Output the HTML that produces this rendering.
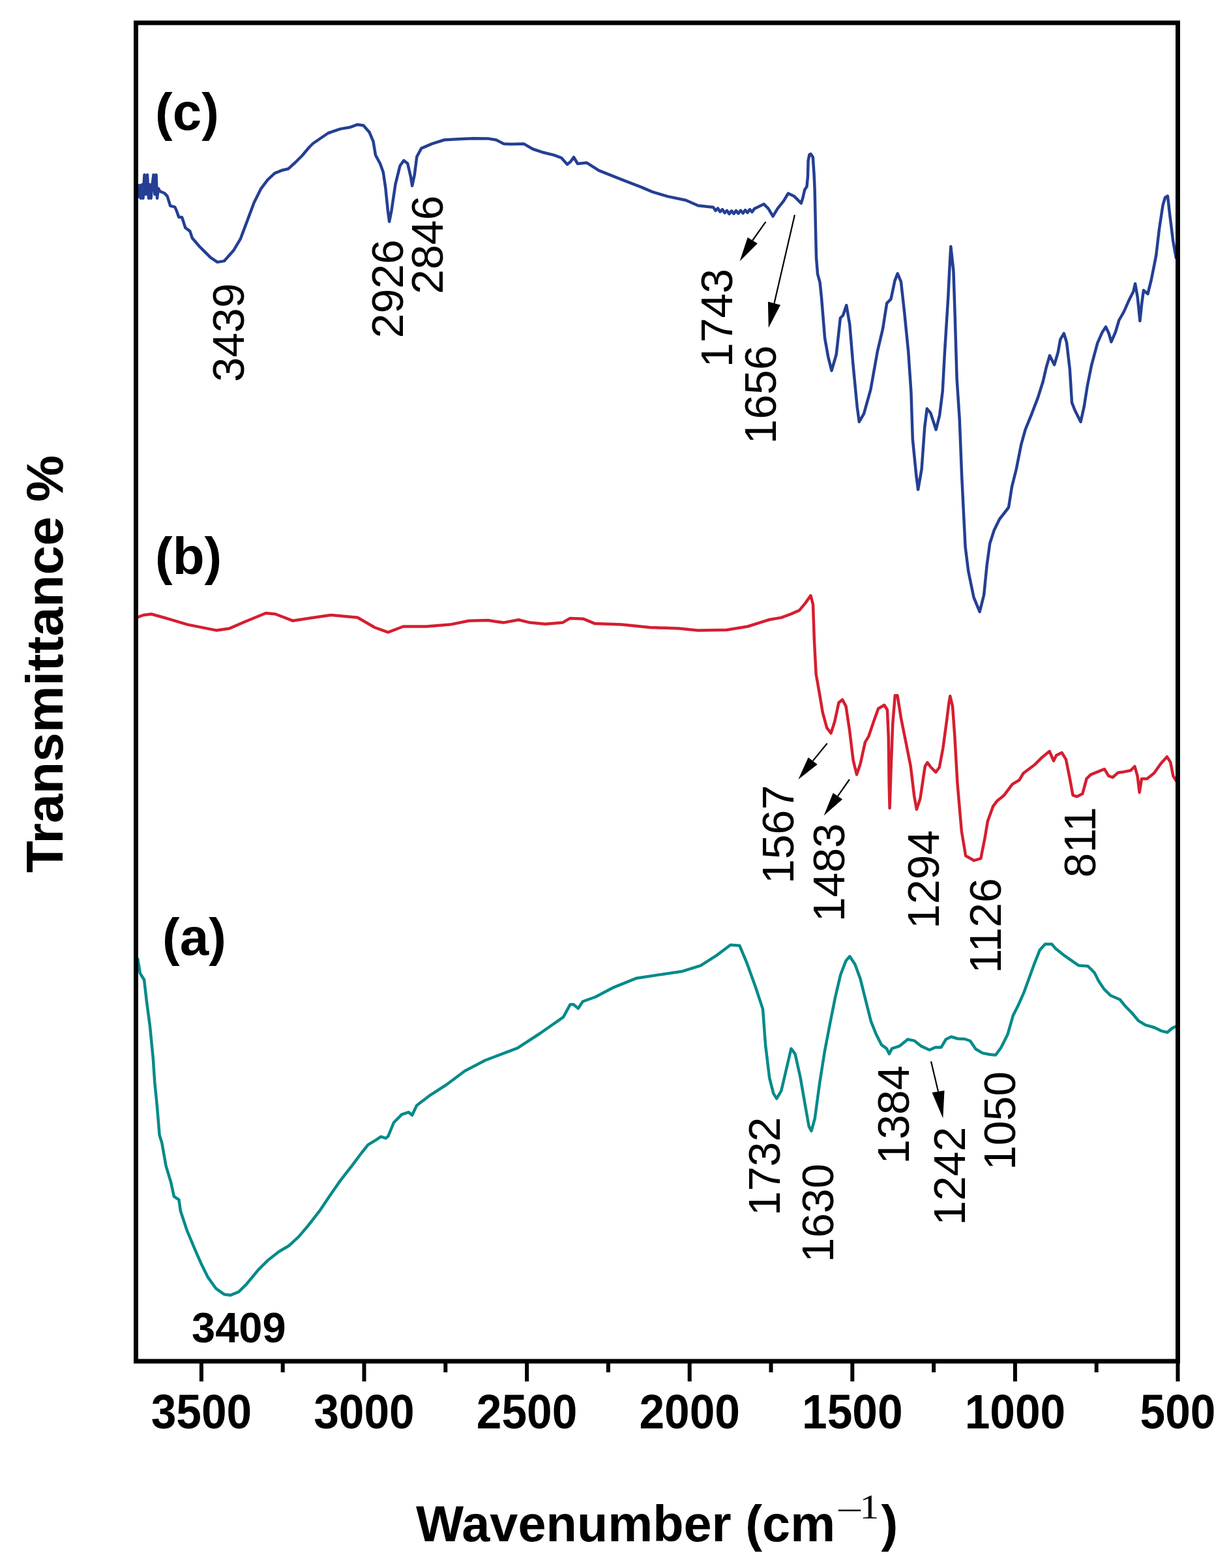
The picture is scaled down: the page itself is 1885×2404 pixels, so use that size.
<!DOCTYPE html>
<html><head><meta charset="utf-8"><title>FTIR spectra</title>
<style>html,body{margin:0;padding:0;background:#fff;}svg{display:block;}</style></head>
<body><svg width="1885" height="2404" viewBox="0 0 1885 2404">
<rect x="0" y="0" width="1885" height="2404" fill="#fff"/>
<polyline fill="none" stroke="#243f93" stroke-width="4.5" stroke-linejoin="round" stroke-linecap="round" points="210.0,292.0 212.0,302.0 214.0,284.0 216.0,304.0 218.0,283.0 219.5,304.0 221.5,268.0 223.5,298.0 226.0,268.0 228.0,304.0 230.0,283.0 231.5,304.0 233.5,284.0 235.5,268.0 237.5,298.0 239.5,268.0 241.0,304.0 243.0,289.0 245.0,293.0 248.0,294.5 252.0,296.0 256.5,300.6 259.0,308.5 261.2,315.6 268.2,317.4 270.6,322.6 274.3,333.0 279.0,333.0 282.0,342.0 284.3,349.2 291.3,354.4 294.9,365.0 305.4,377.3 323.0,394.8 333.5,401.9 344.0,400.1 358.0,384.3 368.6,366.7 379.2,338.6 389.7,310.5 400.2,289.4 410.8,275.4 421.3,265.7 431.9,261.3 442.4,258.7 453.0,249.0 463.5,238.5 474.0,226.0 480.0,220.0 503.4,204.0 522.2,197.6 536.2,195.3 547.9,191.1 557.3,192.2 566.6,202.8 572.5,216.8 576.0,237.9 583.0,250.8 587.7,263.7 591.2,287.1 594.8,322.2 597.1,339.8 600.6,322.2 606.5,282.4 613.5,254.3 619.3,246.1 625.2,250.8 629.9,270.7 632.2,284.8 635.7,268.4 639.3,240.3 646.3,227.4 662.7,220.4 681.4,214.5 702.5,213.3 725.9,212.2 749.3,212.6 761.0,214.5 772.7,220.4 784.4,221.0 803.2,220.4 817.2,228.5 831.3,233.2 850.0,237.9 861.0,242.0 870.0,252.0 875.0,248.0 880.0,241.0 886.0,251.0 900.0,249.6 918.5,261.3 953.7,275.4 984.1,287.1 1000.5,294.1 1023.9,301.1 1052.0,307.0 1070.8,315.2 1094.0,317.7 1097.5,322.9 1101.0,319.4 1104.5,324.7 1108.0,321.1 1111.5,326.4 1115.0,322.9 1118.5,327.9 1122.0,323.3 1125.5,327.5 1129.0,323.0 1132.5,327.2 1136.0,322.6 1139.5,326.9 1143.0,322.1 1146.5,326.0 1150.0,321.1 1153.5,325.0 1157.0,320.1 1171.5,312.9 1178.5,319.9 1185.5,331.6 1192.6,319.9 1201.9,308.2 1208.9,296.5 1218.3,301.1 1228.8,311.7 1231.0,304.7 1234.2,291.0 1237.5,286.0 1239.0,270.0 1239.6,246.0 1241.5,237.0 1243.5,236.0 1246.8,241.0 1248.5,266.0 1249.6,290.0 1250.3,320.0 1250.8,345.0 1252.0,395.0 1254.0,420.0 1257.6,433.0 1260.0,456.6 1265.1,518.6 1270.3,547.5 1275.5,568.2 1282.7,543.4 1288.9,487.6 1293.0,483.5 1298.2,468.0 1303.3,497.9 1308.5,559.9 1314.7,624.0 1317.8,646.7 1325.0,634.3 1335.4,597.1 1345.7,539.3 1354.0,504.1 1360.2,464.9 1366.4,458.7 1372.6,429.8 1376.7,419.4 1381.9,431.8 1387.0,477.3 1393.2,539.3 1397.4,601.2 1399.8,673.5 1405.3,728.6 1408.1,750.6 1413.6,719.4 1418.2,655.1 1421.8,626.6 1427.3,633.1 1435.6,658.8 1441.1,636.7 1445.7,600.0 1449.0,539.3 1454.2,456.6 1456.2,415.3 1458.3,378.1 1462.4,415.3 1464.5,477.3 1467.6,580.6 1471.7,642.6 1475.1,728.6 1477.8,783.7 1480.6,838.8 1485.2,875.5 1493.5,915.9 1502.6,937.9 1509.1,912.2 1513.7,866.3 1518.2,833.2 1524.7,813.0 1533.0,796.0 1547.0,778.0 1552.1,745.7 1558.6,720.0 1566.3,681.4 1572.7,658.3 1581.7,636.4 1592.0,609.4 1599.7,585.0 1604.8,563.1 1610.0,545.1 1617.1,559.3 1622.8,540.0 1626.3,520.4 1631.8,511.2 1636.0,525.0 1640.8,565.7 1644.0,617.1 1648.5,628.7 1657.5,646.7 1662.7,623.6 1667.8,591.4 1674.3,559.3 1683.3,525.9 1690.6,509.4 1696.1,501.1 1700.7,511.2 1704.4,524.1 1710.8,509.4 1716.3,491.0 1723.7,478.1 1731.0,461.6 1738.3,446.9 1741.1,435.0 1744.8,456.1 1748.4,491.9 1751.2,465.3 1754.0,445.1 1760.4,450.6 1765.9,428.6 1773.2,391.8 1778.0,351.0 1783.6,314.3 1787.0,303.0 1790.9,300.5 1794.6,332.6 1799.2,369.4 1803.8,395.1 1806.0,398.0"/>
<polyline fill="none" stroke="#d51e30" stroke-width="4.5" stroke-linejoin="round" stroke-linecap="round" points="210.2,946.7 220.0,943.0 232.2,941.5 258.5,948.8 287.8,957.6 331.7,966.4 352.2,963.4 375.6,953.2 407.8,940.0 422.5,941.5 448.8,951.7 478.1,947.3 507.4,942.9 548.4,946.7 574.7,962.0 595.2,969.3 618.6,960.5 653.7,960.5 690.0,957.6 719.3,951.7 748.5,951.1 772.0,954.6 795.4,950.3 813.0,954.6 836.4,956.7 862.7,954.6 874.4,947.9 894.9,948.8 912.5,956.1 953.5,957.6 997.4,962.0 1041.3,963.4 1070.6,966.4 1114.5,965.8 1146.7,960.5 1170.1,953.2 1180.0,950.0 1198.4,946.9 1213.1,941.4 1225.9,935.9 1235.1,924.9 1243.4,913.0 1247.0,926.7 1248.9,981.8 1251.6,1033.3 1257.1,1064.5 1261.7,1092.0 1268.2,1115.9 1274.5,1124.0 1280.1,1106.7 1286.5,1077.3 1292.0,1072.7 1297.5,1082.8 1303.0,1119.6 1308.6,1165.5 1314.0,1187.5 1319.6,1171.0 1326.9,1137.9 1332.4,1128.8 1339.8,1106.7 1347.1,1086.5 1356.3,1081.0 1360.9,1088.3 1362.7,1128.8 1363.7,1202.2 1364.6,1238.9 1366.4,1183.8 1369.2,1110.4 1372.8,1066.3 1376.5,1066.3 1382.0,1101.2 1389.4,1137.9 1396.7,1174.7 1402.2,1220.6 1405.9,1240.8 1411.4,1224.3 1418.8,1174.7 1422.4,1169.2 1427.9,1176.5 1435.3,1183.8 1440.8,1176.5 1446.3,1147.1 1451.8,1106.7 1455.5,1077.3 1457.3,1067.2 1461.0,1082.8 1464.2,1126.5 1468.4,1200.3 1474.8,1274.0 1481.1,1312.0 1493.7,1319.3 1504.3,1316.2 1510.6,1284.6 1514.8,1259.3 1523.2,1236.1 1529.6,1227.7 1540.1,1219.2 1552.7,1202.4 1563.3,1196.0 1569.6,1185.5 1586.5,1172.8 1597.0,1162.3 1609.7,1151.8 1616.0,1166.5 1620.2,1158.1 1628.6,1153.9 1635.0,1164.4 1641.3,1196.0 1645.5,1219.2 1651.8,1221.3 1660.3,1217.1 1666.6,1193.9 1672.9,1187.6 1683.4,1183.4 1694.0,1179.2 1700.3,1189.7 1706.6,1191.8 1715.1,1184.4 1723.5,1183.4 1734.0,1181.3 1740.4,1175.0 1744.6,1189.7 1747.7,1215.0 1751.0,1193.9 1759.3,1193.9 1769.9,1185.5 1780.4,1170.7 1789.9,1160.2 1795.2,1168.6 1799.4,1189.7 1804.6,1198.1"/>
<polyline fill="none" stroke="#058a8a" stroke-width="4.5" stroke-linejoin="round" stroke-linecap="round" points="211.2,1469.9 214.9,1492.2 221.1,1502.2 224.8,1534.4 229.8,1571.6 234.7,1621.2 237.2,1658.4 240.9,1695.6 244.6,1740.2 248.4,1752.6 254.5,1787.3 262.0,1812.1 266.9,1834.4 274.4,1839.4 276.9,1856.7 286.8,1886.5 299.2,1916.2 309.1,1938.6 319.0,1958.4 331.4,1975.7 343.8,1984.4 353.7,1985.7 366.1,1980.7 378.5,1968.3 395.9,1947.2 410.8,1932.3 428.1,1918.7 443.0,1910.0 457.9,1896.4 472.7,1879.0 490.1,1856.7 505.0,1834.4 522.3,1809.6 539.7,1787.3 554.6,1767.5 564.5,1755.1 576.9,1747.6 584.3,1742.7 591.8,1745.1 595.3,1742.1 604.0,1721.0 616.3,1708.7 626.9,1705.2 632.1,1709.8 639.2,1694.7 660.2,1678.8 684.8,1663.0 712.9,1642.0 744.5,1625.5 793.7,1606.8 828.8,1584.0 864.0,1559.4 874.5,1540.1 879.8,1540.1 886.8,1546.1 893.8,1535.5 913.2,1528.5 941.2,1513.8 976.4,1499.7 1011.5,1494.4 1046.6,1489.2 1074.7,1480.4 1099.3,1464.6 1120.4,1448.8 1134.4,1449.8 1145.0,1475.1 1159.0,1513.8 1170.0,1547.1 1174.0,1601.6 1180.1,1652.1 1186.2,1676.4 1191.2,1684.4 1198.3,1672.3 1205.4,1642.0 1213.4,1607.7 1219.5,1615.8 1227.6,1652.1 1234.6,1692.5 1240.7,1726.9 1244.5,1734.0 1249.8,1714.7 1256.9,1662.2 1264.9,1611.7 1273.0,1569.3 1281.1,1528.9 1289.2,1494.5 1297.3,1473.3 1303.3,1466.3 1311.4,1478.4 1319.5,1500.6 1329.6,1541.0 1335.7,1565.3 1343.7,1585.5 1351.8,1601.6 1359.9,1607.7 1363.9,1615.8 1368.0,1607.7 1380.1,1603.6 1392.2,1593.5 1402.3,1595.6 1412.4,1603.6 1425.6,1609.7 1434.6,1605.7 1443.7,1605.7 1450.8,1593.5 1458.9,1589.5 1469.0,1592.5 1480.0,1593.0 1488.2,1596.0 1496.4,1608.3 1506.6,1614.4 1516.9,1616.5 1527.1,1617.5 1535.3,1606.2 1545.6,1585.7 1553.8,1557.0 1562.0,1540.7 1570.2,1522.2 1578.4,1499.7 1586.6,1477.1 1594.8,1456.6 1603.0,1447.4 1613.2,1447.4 1619.3,1454.6 1633.7,1465.9 1654.2,1480.2 1668.5,1481.2 1678.8,1491.5 1684.9,1503.8 1693.1,1516.1 1703.4,1526.3 1717.7,1532.5 1725.9,1542.7 1736.1,1553.0 1746.4,1565.2 1756.6,1571.4 1771.0,1575.5 1781.2,1580.6 1790.5,1582.7 1797.6,1576.5 1803.8,1573.4"/>
<rect x="208.5" y="35" width="1598.0" height="2052" fill="none" stroke="#000" stroke-width="7"/>
<path d="M308.9,2087v31M433.7,2087v17M558.5,2087v31M683.3,2087v17M808.1,2087v31M932.9,2087v17M1057.7,2087v31M1182.5,2087v17M1307.3,2087v31M1432.1,2087v17M1556.9,2087v31M1681.7,2087v17M1806.5,2087v31" stroke="#000" stroke-width="6" fill="none"/>
<text transform="translate(308.9,2190) scale(0.945,1)" text-anchor="middle" font-family="Liberation Sans, Arial, sans-serif" font-weight="bold" font-size="73.5">3500</text>
<text transform="translate(558.5,2190) scale(0.945,1)" text-anchor="middle" font-family="Liberation Sans, Arial, sans-serif" font-weight="bold" font-size="73.5">3000</text>
<text transform="translate(808.1,2190) scale(0.945,1)" text-anchor="middle" font-family="Liberation Sans, Arial, sans-serif" font-weight="bold" font-size="73.5">2500</text>
<text transform="translate(1057.7,2190) scale(0.945,1)" text-anchor="middle" font-family="Liberation Sans, Arial, sans-serif" font-weight="bold" font-size="73.5">2000</text>
<text transform="translate(1307.3,2190) scale(0.945,1)" text-anchor="middle" font-family="Liberation Sans, Arial, sans-serif" font-weight="bold" font-size="73.5">1500</text>
<text transform="translate(1556.9,2190) scale(0.945,1)" text-anchor="middle" font-family="Liberation Sans, Arial, sans-serif" font-weight="bold" font-size="73.5">1000</text>
<text transform="translate(1806.5,2190) scale(0.945,1)" text-anchor="middle" font-family="Liberation Sans, Arial, sans-serif" font-weight="bold" font-size="73.5">500</text>
<text transform="translate(373.9,509.9) rotate(-90)" text-anchor="middle" font-family="Liberation Sans, Arial, sans-serif" font-size="68">3439</text>
<text transform="translate(617.9,442.8) rotate(-90)" text-anchor="middle" font-family="Liberation Sans, Arial, sans-serif" font-size="68">2926</text>
<text transform="translate(678.5,375.3) rotate(-90)" text-anchor="middle" font-family="Liberation Sans, Arial, sans-serif" font-size="68">2846</text>
<text transform="translate(1122.7,487.5) rotate(-90)" text-anchor="middle" font-family="Liberation Sans, Arial, sans-serif" font-size="68">1743</text>
<text transform="translate(1190.2,605.0) rotate(-90)" text-anchor="middle" font-family="Liberation Sans, Arial, sans-serif" font-size="68">1656</text>
<text transform="translate(1217.4,1279.4) rotate(-90)" text-anchor="middle" font-family="Liberation Sans, Arial, sans-serif" font-size="68">1567</text>
<text transform="translate(1295.2,1337.7) rotate(-90)" text-anchor="middle" font-family="Liberation Sans, Arial, sans-serif" font-size="68">1483</text>
<text transform="translate(1439.7,1348.4) rotate(-90)" text-anchor="middle" font-family="Liberation Sans, Arial, sans-serif" font-size="68">1294</text>
<text transform="translate(1534.5,1419.4) rotate(-90)" text-anchor="middle" font-family="Liberation Sans, Arial, sans-serif" font-size="68">1126</text>
<text transform="translate(1680.3,1291.3) rotate(-90)" text-anchor="middle" font-family="Liberation Sans, Arial, sans-serif" font-size="68">811</text>
<text transform="translate(1195.7,1788.4) rotate(-90)" text-anchor="middle" font-family="Liberation Sans, Arial, sans-serif" font-size="68">1732</text>
<text transform="translate(1278.0,1859.9) rotate(-90)" text-anchor="middle" font-family="Liberation Sans, Arial, sans-serif" font-size="68">1630</text>
<text transform="translate(1394.4,1709.0) rotate(-90)" text-anchor="middle" font-family="Liberation Sans, Arial, sans-serif" font-size="68">1384</text>
<text transform="translate(1479.5,1803.2) rotate(-90)" text-anchor="middle" font-family="Liberation Sans, Arial, sans-serif" font-size="68">1242</text>
<text transform="translate(1556.8,1718.4) rotate(-90)" text-anchor="middle" font-family="Liberation Sans, Arial, sans-serif" font-size="68">1050</text>
<line x1="1174.4" y1="340.1" x2="1154.3" y2="368.5" stroke="#000" stroke-width="2.2"/>
<polygon points="1134.6,400.6 1146.7,363.9 1161.9,373.2" fill="#000"/>
<line x1="1218.9" y1="329.5" x2="1187.5" y2="465.0" stroke="#000" stroke-width="2.2"/>
<polygon points="1178.8,502.4 1177.9,462.5 1197.0,467.5" fill="#000"/>
<line x1="1268.6" y1="1139.7" x2="1246.7" y2="1166.6" stroke="#000" stroke-width="2.2"/>
<polygon points="1224.4,1195.0 1239.7,1161.2 1253.7,1171.9" fill="#000"/>
<line x1="1302.9" y1="1195.0" x2="1284.9" y2="1220.7" stroke="#000" stroke-width="2.2"/>
<polygon points="1263.6,1250.4 1277.7,1215.7 1292.1,1225.6" fill="#000"/>
<line x1="1428.0" y1="1627.3" x2="1439.0" y2="1673.5" stroke="#000" stroke-width="2.2"/>
<polygon points="1446.3,1714.4 1429.5,1675.0 1448.5,1672.0" fill="#000"/>
<text x="238" y="199" font-family="Liberation Sans, Arial, sans-serif" font-weight="bold" font-size="80">(c)</text>
<text x="238" y="880" font-family="Liberation Sans, Arial, sans-serif" font-weight="bold" font-size="80">(b)</text>
<text x="249" y="1464" font-family="Liberation Sans, Arial, sans-serif" font-weight="bold" font-size="80">(a)</text>
<text x="294" y="2058" font-family="Liberation Sans, Arial, sans-serif" font-weight="bold" font-size="65">3409</text>
<text transform="translate(96,1018) rotate(-90)" text-anchor="middle" font-family="Liberation Sans, Arial, sans-serif" font-weight="bold" font-size="80.6">Transmittance %</text>
<text x="638" y="2363" font-family="Liberation Sans, Arial, sans-serif" font-weight="bold" font-size="77.5">Wavenumber (cm</text>
<text transform="translate(1282,2333) scale(1.42,1)" font-family="Liberation Serif, Times New Roman, serif" font-size="52">−</text>
<text x="1318.5" y="2328" font-family="Liberation Serif, Times New Roman, serif" font-size="52" transform="translate(1318.5,2328) scale(1.15,1) translate(-1318.5,-2328)">1</text>
<text x="1351.5" y="2363" font-family="Liberation Sans, Arial, sans-serif" font-weight="bold" font-size="77.5">)</text>
</svg></body></html>
